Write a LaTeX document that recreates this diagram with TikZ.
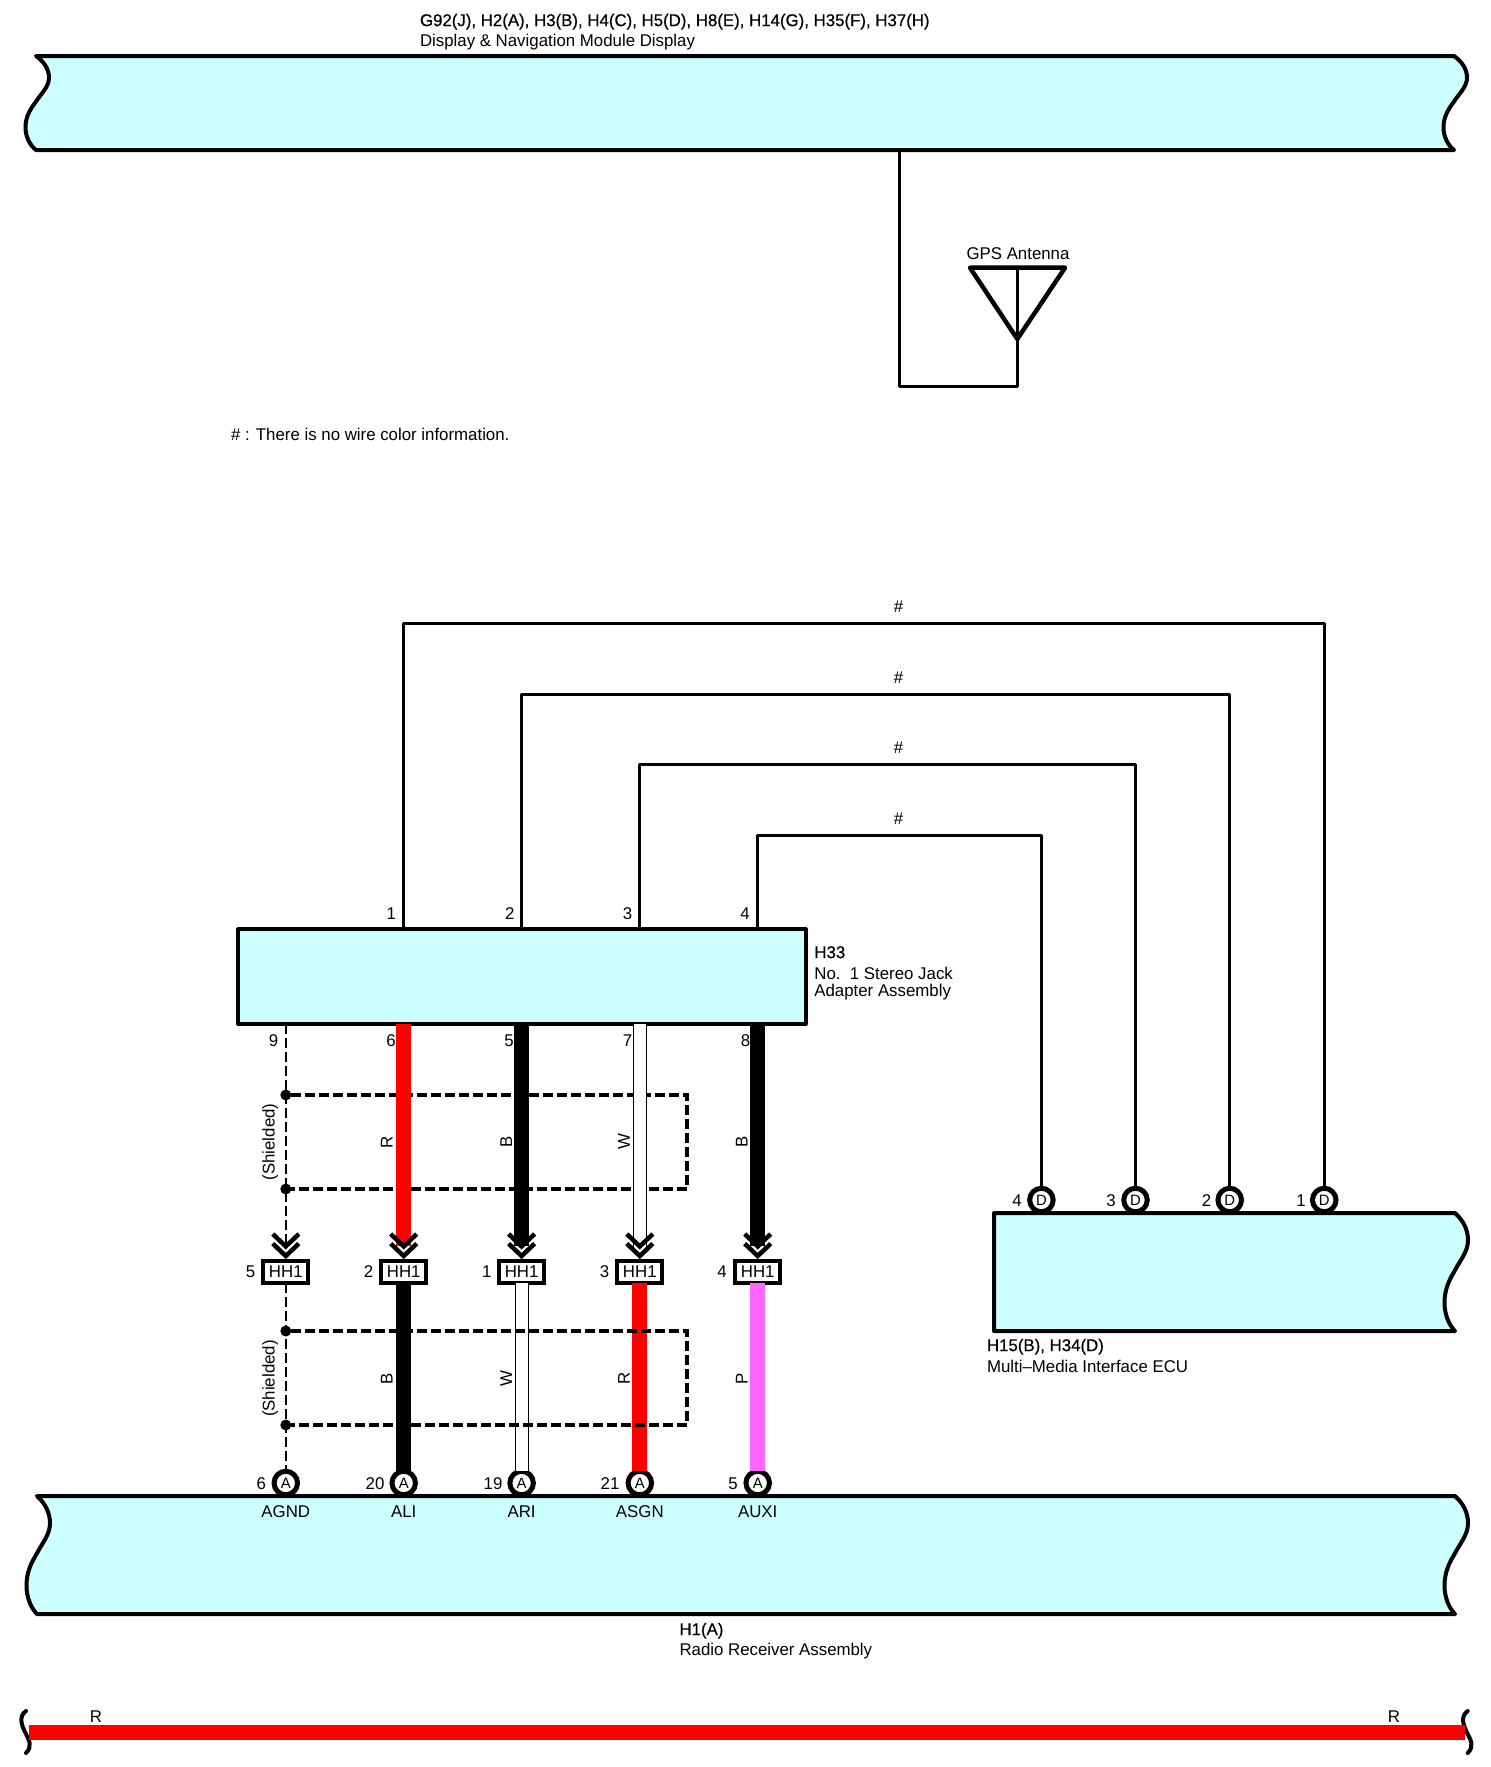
\documentclass[tikz,border=0pt]{standalone}
\usepackage{fontspec}
\setmainfont{Liberation Sans}[FakeStretch=0.99]
\newfontfamily\boldish{Liberation Sans}[FakeStretch=0.99,FakeBold=0.5]
\definecolor{blockcyan}{HTML}{CCFFFF}
\definecolor{wirered}{HTML}{FF0000}
\definecolor{wirepink}{HTML}{FF66FF}
\newcommand\wavedn[3]{.. controls (#1+8,#2+.06*#3) and (#1+13,#2+.14*#3) .. (#1+13,#2+.23*#3) .. controls (#1+13,#2+.33*#3) and (#1+5,#2+.40*#3) .. (#1-1,#2+.5*#3) .. controls (#1-6,#2+.57*#3) and (#1-10.5,#2+.65*#3) .. (#1-10.5,#2+.76*#3) .. controls (#1-10.5,#2+.86*#3) and (#1-6,#2+.95*#3) .. (#1,#2+#3)}
\newcommand\waveup[3]{.. controls (#1-6,#2+.95*#3) and (#1-10.5,#2+.86*#3) .. (#1-10.5,#2+.76*#3) .. controls (#1-10.5,#2+.65*#3) and (#1-6,#2+.57*#3) .. (#1-1,#2+.5*#3) .. controls (#1+5,#2+.40*#3) and (#1+13,#2+.33*#3) .. (#1+13,#2+.23*#3) .. controls (#1+13,#2+.14*#3) and (#1+8,#2+.06*#3) .. (#1,#2)}
\tikzset{
  blockst/.style={draw=black,fill=blockcyan,line width=4pt,line join=round},
  thin wire/.style={draw=black,line width=3pt,line join=round},
  dashwire/.style={draw=black,line width=2.6pt,dash pattern=on 10pt off 4pt},
  shieldline/.style={draw=black,line width=3.4pt,dash pattern=on 10pt off 4pt},
  fatblack/.style={draw=black,line width=15pt},
  fatred/.style={draw=wirered,line width=15pt},
  fatpink/.style={draw=wirepink,line width=15pt},
  whitewire/.style={draw=black,line width=1.1pt,double=white,double distance=12pt},
  chev/.style={draw=black,line width=4.5pt},
  txt/.style={inner sep=0pt,outer sep=0pt,text height=12.2pt,text depth=0pt,font=\fontsize{17}{18}\selectfont},
  ttl/.style={inner sep=0pt,outer sep=0pt,text height=12.2pt,text depth=0pt,anchor=west,font=\fontsize{17}{18}\selectfont\boldish},
  lft/.style={txt,anchor=west},
  pinc/.style={circle,draw=black,fill=white,line width=5pt,minimum size=23.5pt,inner sep=0pt,outer sep=0pt,font=\fontsize{15}{15}\selectfont},
  hhbox/.style={rectangle,draw=black,fill=white,line width=4pt,minimum width=45pt,minimum height=22pt,inner sep=0pt,outer sep=0pt,font=\fontsize{17}{17}\selectfont},
  dot/.style={circle,fill=black,minimum size=11pt,inner sep=0pt,outer sep=0pt},
}
\begin{document}
\begin{tikzpicture}[x=1pt,y=-1pt]
\useasboundingbox (0,0) rectangle (1491,1767);
% top module and antenna
\coordinate (topout) at (899.3,150);
\coordinate (antcorner) at (899.3,386.7);
\coordinate (anttip) at (1017.3,339);
\coordinate (antmid) at (1017.3,267.7);
\draw[thin wire] (topout) -- (antcorner) -| (anttip);
\draw[draw=black,line width=4.5pt,line join=round] (970,267.7) -- (1065,267.7) -- (anttip) -- cycle;
\draw[thin wire] (antmid) -- (anttip);
\draw[blockst] (36,56) -- (1454,56) \wavedn{1454}{56}{94} -- (36,150) \waveup{36}{56}{94} -- cycle;
\node[ttl] (t1) at (420,20) {G92(J), H2(A), H3(B), H4(C), H5(D), H8(E), H14(G), H35(F), H37(H)};
\node[lft] (t2) at (420,40) {Display \& Navigation Module Display};
\node[txt] (t3) at (1018,253) {GPS Antenna};
\node[lft] (t4) at (231,434) {\# : There is no wire color information.};
% H33
\node[rectangle,draw=black,fill=blockcyan,line width=4pt,line join=round,minimum width=567.1pt,minimum height=94.7pt,inner sep=0pt,outer sep=0pt] (h33) at (522,976.7) {};
\node[ttl] (h33a) at (814.4,952) {H33};
\node[lft] (h33b) at (814.4,973) {No.\ \ 1 Stereo Jack};
\node[lft] (h33c) at (814.4,990) {Adapter Assembly};
% bottom pin circles, then receiver block over them
\foreach \n/\x in {1/285.8,2/403.7,3/521.6,4/639.8,5/757.7}{
  \node[pinc] (c\n) at (\x,1483) {A};
}
\foreach \n/\x/\p in {1/261.3/6,2/375/20,3/493/19,4/610/21,5/733/5}{
  \node[txt] (cp\n) at (\x,1483) {\p};
}
% ECU pin circles
\foreach \n/\x/\lx in {4/1041.4/1017,3/1135.5/1111,2/1229.7/1206.5,1/1324.2/1301}{
  \node[pinc] (d\n) at (\x,1200) {D};
  \node[txt] (dp\n) at (\lx,1200) {\n};
}
\draw[blockst] (37,1496) -- (1455,1496) \wavedn{1455}{1496}{118} -- (37,1614) \waveup{37}{1496}{118} -- cycle;
\draw[blockst] (994,1213) -- (1455,1213) \wavedn{1455}{1213}{118} -- (994,1331) -- cycle;
\foreach \n/\x/\sg in {1/285.8/AGND,2/403.7/ALI,3/521.6/ARI,4/639.8/ASGN,5/757.7/AUXI}{
  \node[txt] (sgb\n) at (\x,1511.5) {\sg};
}
\node[ttl] (e1) at (987,1345) {H15(B), H34(D)};
\node[lft] (e2) at (987,1366.7) {Multi--Media Interface ECU};
\node[ttl] (r1) at (679.5,1629) {H1(A)};
\node[lft] (r2) at (679.5,1649) {Radio Receiver Assembly};
% wires over top of H33 to ECU
\foreach \n/\x/\y/\d/\lx in {1/403.7/623/1/391.4,2/521.6/694/2/509.7,3/639.8/764.3/3/627.6,4/757.7/835.7/4/745}{
  \coordinate (up\n) at (\x,\y);
  \draw[thin wire] (h33.north -| up\n) -- (up\n) -| (d\d.north);
  \node[txt] (up\n l) at (\lx,913) {\n};
}
\foreach \n/\y in {1/606.7,2/677,3/747.7,4/818.7}{
  \node[txt] (hash\n) at (898.6,\y) {\#};
}
% HH1 connectors
\foreach \n/\x/\lx/\pn in {1/285.8/250.6/5,2/403.7/368.5/2,3/521.6/486.7/1,4/639.8/604.6/3,5/757.7/722/4}{
  \node[hhbox] (hh\n) at (\x,1272) {HH1};
  \node[txt] (hhp\n) at (\lx,1271) {\pn};
  \coordinate (arr\n) at (\x,1246);
}
% shields
\node[dot] (s1) at (285.8,1095) {};
\node[dot] (s2) at (285.8,1189) {};
\node[dot] (s3) at (285.8,1331) {};
\node[dot] (s4) at (285.8,1425) {};
\coordinate (s1c) at (687,1095);
\coordinate (s2c) at (687,1189);
\coordinate (s3c) at (687,1331);
\coordinate (s4c) at (687,1425);
\draw[shieldline] (s1) -- (s1c) -- (s2c) -- (s2);
% upper wires
\draw[dashwire] (h33.south -| arr1) -- (arr1);
\draw[fatred] (h33.south -| arr2) -- (arr2);
\draw[fatblack] (h33.south -| arr3) -- (arr3);
\draw[whitewire] (h33.south -| arr4) -- ([yshift=-3pt]arr4);
\draw[fatblack] (h33.south -| arr5) -- (arr5);
% lower wires
\draw[dashwire] (hh1.south) -- (c1.north);
\draw[fatblack] (hh2.south) -- (c2.north);
\draw[whitewire] (hh3.south) -- (c3.north);
\draw[fatred] (hh4.south) -- (c4.north);
\draw[fatpink] (hh5.south) -- (c5.north);
\draw[shieldline] (s3) -- (s3c) -- (s4c) -- (s4);
% chevrons
\foreach \n in {1,...,5}{
  \draw[chev] ([shift={(-13,-27)}]hh\n.north) -- ([shift={(0,-14.6)}]hh\n.north) -- ([shift={(13,-27)}]hh\n.north);
  \draw[chev] ([shift={(-13,-17.4)}]hh\n.north) -- ([shift={(0,-5)}]hh\n.north) -- ([shift={(13,-17.4)}]hh\n.north);
}
% pin labels under H33
\foreach \n/\x/\p in {1/273.6/9,2/391/6,3/509/5,4/627.6/7,5/745.5/8}{
  \node[txt] (bp\n) at (\x,1040) {\p};
}
% colour labels
\node[txt,rotate=90] (sh1) at (268.6,1142) {(Shielded)};
\node[txt,rotate=90] (sh2) at (268.6,1378.6) {(Shielded)};
\foreach \n/\x/\a/\b in {1/386.5/R/B,2/506/B/W,3/623.7/W/R,4/741.6/B/P}{
  \node[txt,rotate=90] (ca\n) at (\x,1142) {\a};
  \node[txt,rotate=90] (cb\n) at (\x,1378.6) {\b};
}
% bottom power line
\draw[draw=black,line width=4pt,line cap=round] (26,1711) .. controls (19,1716) and (21,1724) .. (25,1732) .. controls (29,1740) and (33,1746) .. (26,1753);
\draw[draw=black,line width=4pt,line cap=round] (1467.7,1711) .. controls (1460.7,1716) and (1462.7,1724) .. (1466.7,1732) .. controls (1470.7,1740) and (1474.7,1746) .. (1467.7,1753);
\coordinate (rl) at (29,1732.5);
\coordinate (rr) at (1465,1732.5);
\draw[draw=wirered,line width=15pt] (rl) -- (rr);
\node[txt] (rla) at (96,1716) {R};
\node[txt] (rlb) at (1394,1716) {R};
\end{tikzpicture}
\end{document}
